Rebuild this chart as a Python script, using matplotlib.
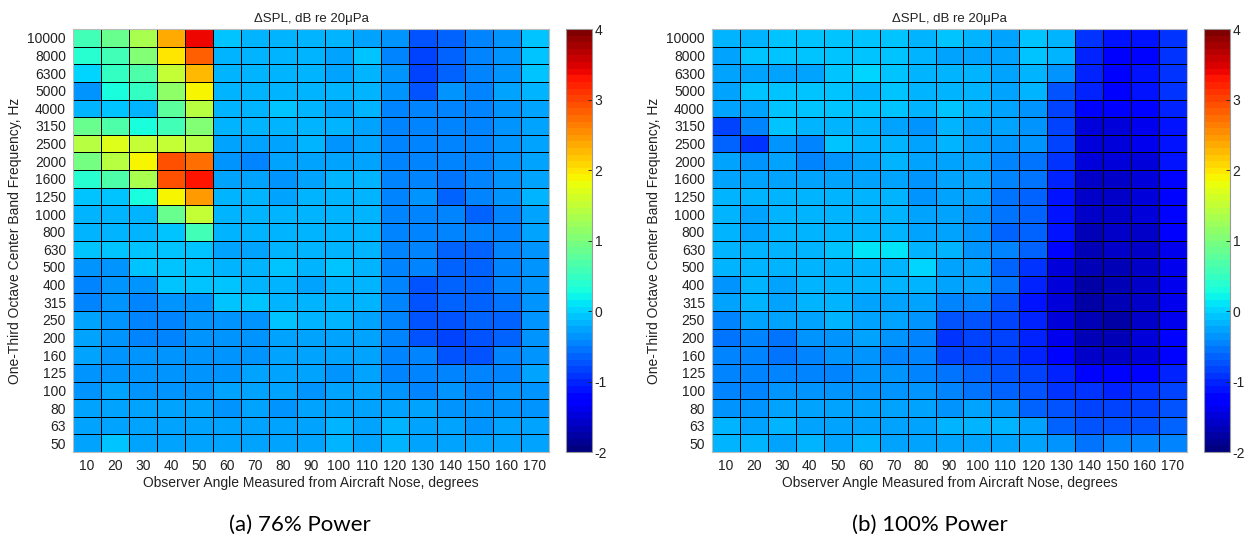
import numpy as np
import matplotlib
matplotlib.use('Agg')
from matplotlib import pyplot as plt

plt.rcParams['font.family'] = ['Liberation Sans', 'DejaVu Sans']
plt.rcParams['axes.unicode_minus'] = False

angles = [10, 20, 30, 40, 50, 60, 70, 80, 90, 100, 110, 120, 130, 140, 150, 160, 170]
# rows listed from top (10000 Hz) to bottom (50 Hz)
freqs = ['10000', '8000', '6300', '5000', '4000', '3150', '2500', '2000', '1600',
         '1250', '1000', '800', '630', '500', '400', '315', '250', '200', '160',
         '125', '100', '80', '63', '50']

dspl_76 = [
    [0.55, 0.85, 1.3, 2.35, 3.4, -0.1, -0.15, -0.15, -0.2, -0.15, -0.3, -0.4, -0.7, -0.6, -0.45, -0.35, -0.1],
    [0.4, 0.55, 1.0, 1.95, 2.8, -0.2, -0.15, -0.15, -0.2, -0.3, -0.12, -0.42, -0.8, -0.65, -0.45, -0.4, -0.1],
    [0.0, 0.5, 0.7, 1.5, 2.3, -0.15, -0.15, -0.15, -0.2, -0.3, -0.15, -0.4, -0.85, -0.65, -0.45, -0.4, -0.1],
    [-0.35, 0.25, 0.5, 1.1, 1.9, -0.15, -0.15, -0.15, -0.2, -0.2, -0.15, -0.4, -0.75, -0.4, -0.45, -0.25, -0.15],
    [-0.2, -0.05, -0.15, 0.75, 1.45, -0.15, -0.15, -0.05, -0.2, -0.3, -0.15, -0.5, -0.5, -0.45, -0.45, -0.4, -0.25],
    [0.9, 0.7, 0.25, 0.55, 1.05, -0.2, -0.2, -0.2, -0.2, -0.2, -0.3, -0.5, -0.45, -0.5, -0.5, -0.4, -0.25],
    [1.45, 1.7, 1.5, 1.55, 1.45, -0.3, -0.3, -0.25, -0.2, -0.35, -0.3, -0.5, -0.45, -0.5, -0.5, -0.4, -0.25],
    [0.95, 1.4, 1.9, 2.9, 2.7, -0.35, -0.45, -0.3, -0.3, -0.3, -0.25, -0.5, -0.45, -0.5, -0.45, -0.4, -0.25],
    [0.35, 0.7, 1.3, 2.9, 3.3, -0.25, -0.25, -0.35, -0.25, -0.2, -0.2, -0.5, -0.45, -0.55, -0.5, -0.4, -0.25],
    [-0.12, -0.12, 0.25, 1.9, 2.45, -0.2, -0.2, -0.25, -0.2, -0.15, -0.2, -0.5, -0.4, -0.65, -0.45, -0.4, -0.2],
    [-0.15, -0.15, -0.15, 0.85, 1.5, -0.2, -0.2, -0.2, -0.2, -0.2, -0.2, -0.5, -0.5, -0.45, -0.65, -0.45, -0.3],
    [-0.15, -0.15, -0.15, -0.12, 0.6, -0.2, -0.2, -0.2, -0.2, -0.15, -0.15, -0.45, -0.45, -0.45, -0.5, -0.45, -0.3],
    [-0.05, -0.05, -0.05, -0.1, -0.1, -0.25, -0.25, -0.2, -0.15, -0.15, -0.15, -0.5, -0.45, -0.65, -0.65, -0.45, -0.4],
    [-0.35, -0.35, -0.1, -0.1, -0.1, -0.2, -0.2, -0.1, -0.2, -0.1, -0.2, -0.5, -0.45, -0.6, -0.6, -0.45, -0.4],
    [-0.45, -0.35, -0.35, -0.1, -0.1, -0.1, -0.15, -0.2, -0.25, -0.2, -0.2, -0.5, -0.7, -0.6, -0.6, -0.45, -0.35],
    [-0.45, -0.35, -0.45, -0.35, -0.35, -0.1, -0.1, -0.2, -0.2, -0.15, -0.2, -0.45, -0.7, -0.65, -0.6, -0.55, -0.35],
    [-0.3, -0.35, -0.45, -0.5, -0.4, -0.4, -0.4, -0.1, -0.15, -0.15, -0.25, -0.45, -0.7, -0.75, -0.65, -0.6, -0.35],
    [-0.3, -0.35, -0.45, -0.5, -0.4, -0.35, -0.35, -0.25, -0.25, -0.3, -0.25, -0.5, -0.7, -0.8, -0.7, -0.6, -0.35],
    [-0.3, -0.35, -0.35, -0.4, -0.4, -0.35, -0.35, -0.25, -0.25, -0.3, -0.25, -0.45, -0.5, -0.7, -0.7, -0.5, -0.35],
    [-0.35, -0.35, -0.35, -0.4, -0.4, -0.4, -0.3, -0.3, -0.3, -0.35, -0.3, -0.45, -0.45, -0.5, -0.5, -0.45, -0.3],
    [-0.35, -0.25, -0.35, -0.35, -0.35, -0.3, -0.3, -0.3, -0.35, -0.3, -0.3, -0.4, -0.45, -0.4, -0.45, -0.4, -0.35],
    [-0.25, -0.25, -0.25, -0.3, -0.3, -0.4, -0.3, -0.4, -0.25, -0.25, -0.3, -0.3, -0.3, -0.35, -0.4, -0.35, -0.35],
    [-0.25, -0.25, -0.25, -0.25, -0.25, -0.3, -0.3, -0.3, -0.25, -0.2, -0.25, -0.15, -0.25, -0.3, -0.35, -0.3, -0.3],
    [-0.25, -0.1, -0.25, -0.25, -0.3, -0.3, -0.3, -0.3, -0.25, -0.2, -0.3, -0.15, -0.3, -0.3, -0.3, -0.25, -0.25],
]

dspl_100 = [
    [-0.2, -0.15, -0.05, -0.05, -0.05, -0.05, -0.05, -0.15, -0.1, -0.15, -0.25, -0.1, -0.2, -0.95, -1.1, -1.1, -0.9],
    [-0.25, -0.1, -0.1, -0.1, -0.1, -0.1, -0.05, -0.15, -0.3, -0.3, -0.3, -0.12, -0.2, -1.0, -1.3, -1.2, -0.95],
    [-0.25, -0.25, -0.25, -0.25, -0.1, 0.05, -0.05, -0.15, -0.2, -0.2, -0.25, -0.2, -0.35, -1.0, -1.3, -1.1, -0.9],
    [-0.25, -0.1, -0.1, -0.1, -0.1, -0.15, -0.1, -0.2, -0.15, -0.2, -0.25, -0.2, -0.75, -1.05, -1.3, -1.15, -0.95],
    [-0.25, -0.3, -0.1, -0.1, -0.1, -0.1, -0.1, -0.2, -0.1, -0.2, -0.3, -0.35, -0.8, -1.2, -1.3, -1.2, -1.0],
    [-0.8, -0.45, -0.1, -0.2, -0.15, -0.15, -0.25, -0.35, -0.2, -0.3, -0.25, -0.35, -0.85, -1.45, -1.5, -1.35, -1.1],
    [-0.65, -0.9, -0.35, -0.45, -0.1, -0.15, -0.2, -0.3, -0.2, -0.3, -0.35, -0.35, -0.85, -1.45, -1.5, -1.4, -1.1],
    [-0.25, -0.35, -0.3, -0.45, -0.35, -0.3, -0.2, -0.3, -0.3, -0.3, -0.45, -0.55, -0.95, -1.5, -1.5, -1.45, -1.15],
    [-0.25, -0.3, -0.25, -0.3, -0.3, -0.25, -0.25, -0.35, -0.3, -0.3, -0.5, -0.55, -1.0, -1.55, -1.55, -1.45, -1.2],
    [-0.15, -0.15, -0.15, -0.15, -0.15, -0.2, -0.2, -0.35, -0.3, -0.3, -0.55, -0.6, -1.15, -1.55, -1.55, -1.5, -1.25],
    [-0.15, -0.25, -0.15, -0.15, -0.15, -0.2, -0.2, -0.3, -0.25, -0.35, -0.55, -0.65, -1.15, -1.6, -1.55, -1.5, -1.25],
    [-0.15, -0.25, -0.15, -0.15, -0.15, -0.15, -0.15, -0.3, -0.25, -0.35, -0.6, -0.65, -1.15, -1.7, -1.6, -1.55, -1.3],
    [-0.15, -0.2, -0.2, -0.15, -0.05, 0.1, 0.1, -0.15, -0.2, -0.35, -0.5, -0.6, -1.2, -1.65, -1.6, -1.55, -1.35],
    [-0.2, -0.2, -0.2, -0.15, -0.2, -0.2, -0.2, -0.03, -0.25, -0.25, -0.6, -0.95, -1.45, -1.7, -1.65, -1.6, -1.4],
    [-0.35, -0.2, -0.3, -0.2, -0.2, -0.15, -0.2, -0.2, -0.3, -0.25, -0.55, -1.0, -1.5, -1.75, -1.7, -1.6, -1.4],
    [-0.3, -0.2, -0.3, -0.2, -0.2, -0.25, -0.3, -0.3, -0.45, -0.45, -0.7, -1.1, -1.45, -1.75, -1.7, -1.6, -1.4],
    [-0.45, -0.3, -0.3, -0.25, -0.15, -0.25, -0.3, -0.4, -0.75, -0.7, -0.8, -1.05, -1.45, -1.7, -1.75, -1.6, -1.4],
    [-0.55, -0.45, -0.55, -0.4, -0.35, -0.3, -0.4, -0.5, -0.9, -0.8, -0.85, -1.0, -1.35, -1.65, -1.65, -1.5, -1.25],
    [-0.45, -0.45, -0.55, -0.45, -0.4, -0.4, -0.45, -0.5, -0.8, -0.8, -0.85, -1.0, -1.2, -1.55, -1.55, -1.45, -1.2],
    [-0.45, -0.45, -0.45, -0.45, -0.45, -0.35, -0.35, -0.45, -0.55, -0.6, -0.7, -0.85, -1.0, -1.2, -1.25, -1.2, -1.0],
    [-0.45, -0.5, -0.35, -0.4, -0.35, -0.35, -0.35, -0.4, -0.5, -0.55, -0.65, -0.75, -0.9, -0.95, -1.0, -0.95, -0.85],
    [-0.35, -0.35, -0.3, -0.3, -0.3, -0.3, -0.3, -0.3, -0.35, -0.3, -0.35, -0.6, -0.7, -0.8, -0.85, -0.8, -0.7],
    [-0.2, -0.3, -0.15, -0.3, -0.3, -0.3, -0.3, -0.25, -0.2, -0.2, -0.2, -0.3, -0.65, -0.75, -0.75, -0.7, -0.6],
    [-0.2, -0.15, -0.3, -0.15, -0.25, -0.15, -0.3, -0.3, -0.25, -0.3, -0.3, -0.3, -0.4, -0.55, -0.5, -0.5, -0.45],
]

captions = ['(a) 76% Power', '(b) 100% Power']
title = '\u0394SPL, dB re 20\u03bcPa'

cmap = plt.get_cmap('jet', 64)

fig = plt.figure(figsize=(12.48, 5.44), dpi=100)
panels = [
    (dspl_76, [0.0585, 0.169, 0.3814, 0.7776], [0.4535, 0.169, 0.0208, 0.7776], 0.24),
    (dspl_100, [0.5705, 0.169, 0.3806, 0.7776], [0.9647, 0.169, 0.0208, 0.7776], 0.745),
]

for (data, ax_rect, cb_rect, cap_x), cap in zip(panels, captions):
    ax = fig.add_axes(ax_rect)
    z = np.array(data)[::-1]
    mesh = ax.pcolormesh(np.arange(len(angles) + 1), np.arange(len(freqs) + 1), z,
                         cmap=cmap, vmin=-2, vmax=4, edgecolors='k', linewidth=0.6)
    ax.set_xticks(np.arange(len(angles)) + 0.5)
    ax.set_xticklabels([str(a) for a in angles], fontsize=10)
    ax.set_yticks(np.arange(len(freqs)) + 0.5)
    ax.set_yticklabels(freqs[::-1], fontsize=10)
    ax.tick_params(length=0, pad=5, colors='#222222')
    ax.set_xlim(0, len(angles))
    ax.set_ylim(0, len(freqs))
    for s in ax.spines.values():
        s.set_color('#bbbbbb')
    ax.set_xlabel('Observer Angle Measured from Aircraft Nose, degrees', fontsize=10, color='#222222', labelpad=2)
    ax.set_ylabel('One-Third Octave Center Band Frequency, Hz', fontsize=10, color='#222222', labelpad=4)
    ax.set_title(title, fontsize=9.5, color='#222222', pad=5)

    cax = fig.add_axes(cb_rect)
    cb = fig.colorbar(mesh, cax=cax, ticks=[-2, -1, 0, 1, 2, 3, 4])
    cb.ax.tick_params(labelsize=10, length=3, width=0.6, direction='in', pad=2, colors='#222222')
    cb.outline.set_edgecolor('#999999')

    fig.text(cap_x, 0.035, cap, fontsize=16, family=['Lato', 'DejaVu Sans'], ha='center', va='center')

fig.savefig('out.png', dpi=100)
